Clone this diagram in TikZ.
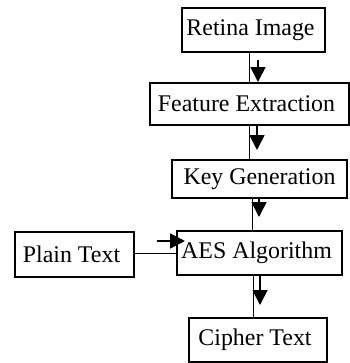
\documentclass[tikz,border=0pt]{standalone}
\usepackage{fontspec}
\setmainfont{Liberation Serif}
\usetikzlibrary{arrows.meta}
\newcommand{\lpad}{\hspace*{6bp}}
\begin{document}
\begin{tikzpicture}[x=1bp,y=-1bp,
  box/.style={draw,line width=1.1bp,inner sep=0pt,font=\fontsize{23.9bp}{28bp}\selectfont},
  link/.style={line width=1bp},
  marker/.style={line width=1.8bp,-{Triangle[length=15bp,width=15bp]}}]
\useasboundingbox[fill=white] (0,0) rectangle (350,363);

% process boxes (text sits a little left of centre)
\node[box,minimum width=143bp,minimum height=44bp] (ret)   at (253.5,30)  {Retina Image\lpad};
\node[box,minimum width=199bp,minimum height=42bp] (feat)  at (249.5,104) {Feature Extraction\lpad};
\node[box,minimum width=175bp,minimum height=38bp] (key)   at (259.5,179) {Key Generation};
\node[box,minimum width=165bp,minimum height=44bp] (aes)   at (259.5,253) {AES Algorithm\lpad};
\node[box,minimum width=119bp,minimum height=45bp] (plain) at (74.5,254.5) {Plain Text\lpad};
\node[box,minimum width=138bp,minimum height=44bp] (ciph)  at (258,340)   {Cipher Text\lpad};

% connecting lines
\draw[link] ([xshift=-4.5bp]ret.south) -- ([xshift=-4.5bp]ret.south |- feat.north);
\draw[link] (feat.south) -- (feat.south |- key.north);
\draw[link] ([xshift=-7.5bp]key.south) -- ([xshift=-7.5bp]key.south |- aes.north);
\draw[link] (plain.east |- aes.west) -- (aes.west);
\draw[link] ([xshift=-6.5bp]aes.south) -- ([xshift=-6.5bp]aes.south |- ciph.north);

% direction markers beside the lines
\coordinate (m1) at (258,60);  \coordinate (t1) at (258,82);
\coordinate (m2) at (257,125); \coordinate (t2) at (257,150);
\coordinate (m3) at (259,197); \coordinate (t3) at (259,217);
\coordinate (m4) at (157,241); \coordinate (t4) at (185,241);
\coordinate (m5) at (260,275); \coordinate (t5) at (260,305);
\draw[marker] (m1) -- (t1);
\draw[marker] (m2) -- (t2);
\draw[marker] (m3) -- (t3);
\draw[marker] (m4) -- (t4);
\draw[marker] (m5) -- (t5);
\end{tikzpicture}
\end{document}
